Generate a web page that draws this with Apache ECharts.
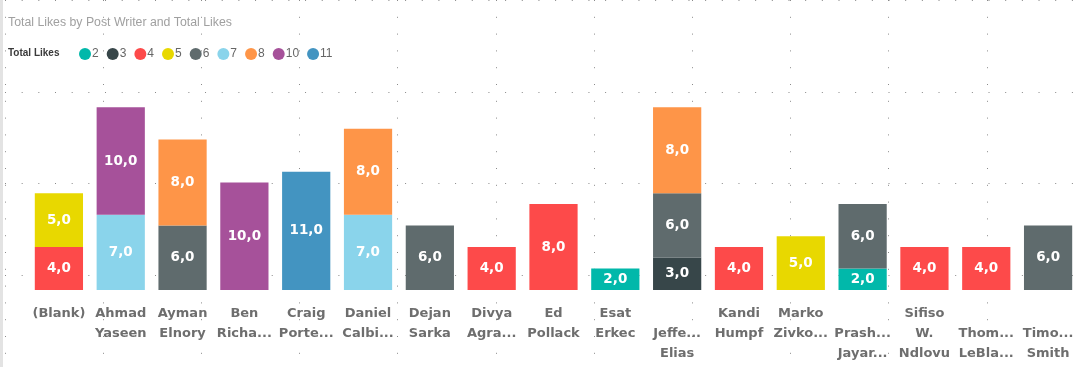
<!DOCTYPE html>
<html>
<head>
<meta charset="utf-8">
<script src="https://cdn.jsdelivr.net/npm/echarts@6/dist/echarts.min.js"></script>
<style>
html,body{margin:0;padding:0;background:#fff;}
#chart{width:1085px;height:367px;}
</style>
</head>
<body>
<div id="chart"></div>
<script>
const categories = ["(Blank)", "Ahmad\nYaseen", "Ayman\nElnory", "Ben\nRicha...", "Craig\nPorte...", "Daniel\nCalbi...", "Dejan\nSarka", "Divya\nAgra...", "Ed\nPollack", "Esat\nErkec", "\nJeffe...\nElias", "Kandi\nHumpf", "Marko\nZivko...", "\nPrash...\nJayar...", "Sifiso\nW.\nNdlovu", "\nThom...\nLeBla...", "\nTimo...\nSmith"];
const seriesNames = ["2", "3", "4", "5", "6", "7", "8", "10", "11"];
const s2  = [null, null, null, null, null, null, null, null, null, 2, null, null, null, 2, null, null, null];
const s3  = [null, null, null, null, null, null, null, null, null, null, 3, null, null, null, null, null, null];
const s4  = [4, null, null, null, null, null, null, 4, 8, null, null, 4, null, null, 4, 4, null];
const s5  = [5, null, null, null, null, null, null, null, null, null, null, null, 5, null, null, null, null];
const s6  = [null, null, 6, null, null, null, 6, null, null, null, 6, null, null, 6, null, null, 6];
const s7  = [null, 7, null, null, null, 7, null, null, null, null, null, null, null, null, null, null, null];
const s8  = [null, null, 8, null, null, 8, null, null, null, null, 8, null, null, null, null, null, null];
const s10 = [null, 10, null, 10, null, null, null, null, null, null, null, null, null, null, null, null, null];
const s11 = [null, null, null, null, 11, null, null, null, null, null, null, null, null, null, null, null, null];
const seriesValues = [s2, s3, s4, s5, s6, s7, s8, s10, s11];
const colors = ["#01B8AA", "#374649", "#FD4A4A", "#E8D800", "#5F6B6D", "#8AD4EB", "#FE9548", "#A6519A", "#4394C1"];

const chart = echarts.init(document.getElementById('chart'));

const barSeries = seriesNames.map((name, i) => ({
  name: name,
  type: 'bar',
  stack: 'total',
  xAxisIndex: 0,
  yAxisIndex: 0,
  barCategoryGap: '22%',
  data: seriesValues[i],
  itemStyle: { color: colors[i] },
  label: {
    show: true,
    position: 'inside',
    color: '#ffffff',
    fontFamily: 'DejaVu Sans',
    fontWeight: 'bold',
    fontSize: 13.5,
    formatter: p => (p.value == null ? '' : p.value.toFixed(1).replace('.', ','))
  },
  emphasis: { disabled: true }
}));

const option = {
  animation: false,
  backgroundColor: '#ffffff',
  color: colors,
  title: [
    {
      text: 'Total Likes by Post Writer and Total Likes',
      left: 3, top: 12,
      textStyle: { color: '#a0a0a0', fontFamily: 'Liberation Sans', fontWeight: 'normal', fontSize: 12.3 }
    },
    {
      text: 'Total Likes',
      left: 3, top: 43,
      textStyle: { color: '#3a3a3a', fontFamily: 'Liberation Sans', fontWeight: 'bold', fontSize: 10 }
    }
  ],
  legend: {
    left: 74, top: 43,
    icon: 'circle',
    itemWidth: 12, itemHeight: 12,
    itemGap: 8,
    data: seriesNames,
    textStyle: { color: '#666666', fontFamily: 'Liberation Sans', fontSize: 12, padding: [0, 0, 0, -4] }
  },
  graphic: [
    { type: 'rect', left: 0, top: 0, shape: { width: 3, height: 367 }, style: { fill: '#e3e3e3' }, silent: true }
  ],
  grid: [
    { left: 28, right: 6, top: 75, bottom: 77 },
    { left: 5, top: -19, width: 1100, height: 405 }
  ],
  xAxis: [
    {
      type: 'category',
      gridIndex: 0,
      data: categories,
      axisLine: { show: false },
      axisTick: { show: false },
      axisLabel: {
        interval: 0,
        margin: 14,
        color: '#6e6e6e',
        fontFamily: 'DejaVu Sans',
        fontWeight: 'bold',
        fontSize: 13,
        lineHeight: 20,
        verticalAlign: 'top'
      }
    },
    {
      type: 'value', gridIndex: 1, min: 0, max: 11, interval: 1,
      axisLine: { show: false }, axisTick: { show: false }, axisLabel: { show: false },
      splitLine: { show: true, lineStyle: { color: '#8a8a8a', width: 1, type: [1, 15.8] } }
    }
  ],
  yAxis: [
    {
      type: 'value', gridIndex: 0, min: 0, max: 20,
      show: false,
      splitLine: { show: false }
    },
    {
      type: 'value', gridIndex: 1, min: 0, max: 4, interval: 1,
      axisLine: { show: false }, axisTick: { show: false }, axisLabel: { show: false },
      splitLine: { show: true, lineStyle: { color: '#8a8a8a', width: 1, type: [1, 15.67] } }
    }
  ],
  series: [
    {
      type: 'line', xAxisIndex: 1, yAxisIndex: 1, data: [], silent: true
    }
  ].concat(barSeries)
};
chart.setOption(option);
</script>
</body>
</html>
